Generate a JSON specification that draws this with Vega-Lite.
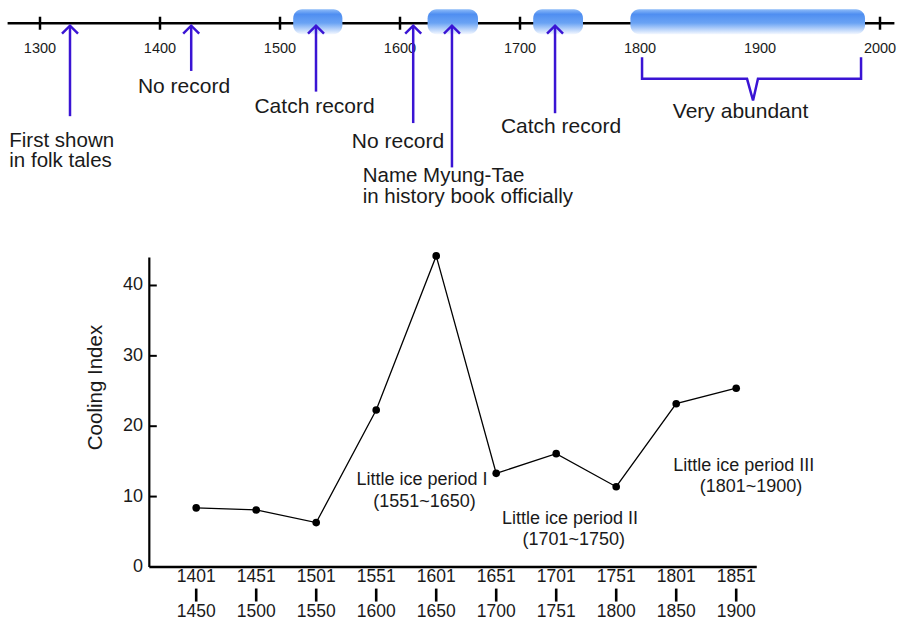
{
  "$schema": "https://vega.github.io/schema/vega-lite/v6.json",
  "width": 908,
  "height": 630,
  "autosize": {"type": "fit", "contains": "padding"},
  "padding": 0,
  "background": "#ffffff",
  "config": {"view": {"stroke": null}},
  "datasets": {
    "timeline": [{"from": 1273, "to": 2012, "level": 77.27}],
    "tickYears": [
      {"year": 1300, "level": 77.27}, {"year": 1400, "level": 77.27}, {"year": 1500, "level": 77.27},
      {"year": 1600, "level": 77.27}, {"year": 1700, "level": 77.27}, {"year": 2000, "level": 77.27}
    ],
    "centuries": [
      {"year": 1300, "label": "1300", "level": 73.57}, {"year": 1400, "label": "1400", "level": 73.57},
      {"year": 1500, "label": "1500", "level": 73.57}, {"year": 1600, "label": "1600", "level": 73.57},
      {"year": 1700, "label": "1700", "level": 73.57}, {"year": 1800, "label": "1800", "level": 73.57},
      {"year": 1900, "label": "1900", "level": 73.57}, {"year": 2000, "label": "2000", "level": 73.57}
    ],
    "records": [
      {"start": 1511, "end": 1552, "level": 77.48},
      {"start": 1623, "end": 1665, "level": 77.48},
      {"start": 1711, "end": 1752.5, "level": 77.48},
      {"start": 1792, "end": 1987.5, "level": 77.48}
    ],
    "events": [
      {"year": 1325, "tip": 76.92, "reach": 64.06},
      {"year": 1426, "tip": 76.92, "reach": 70.49},
      {"year": 1530, "tip": 76.92, "reach": 67.55},
      {"year": 1611, "tip": 76.92, "reach": 63.08},
      {"year": 1643.3, "tip": 76.92, "reach": 56.78},
      {"year": 1729.2, "tip": 76.92, "reach": 64.48}
    ],
    "brace": [
      {"year": 1801.7, "level": 72.45},
      {"year": 1801.7, "level": 69.37},
      {"year": 1889.2, "level": 69.37},
      {"year": 1894.2, "level": 66.29},
      {"year": 1898.3, "level": 69.37},
      {"year": 1984.2, "level": 69.37},
      {"year": 1984.2, "level": 72.45}
    ],
    "notesCentre": [
      {"note": "No record", "year": 1420, "level": 68.25},
      {"note": "Catch record", "year": 1528.8, "level": 65.31},
      {"note": "No record", "year": 1598.3, "level": 60.42},
      {"note": "Catch record", "year": 1734.2, "level": 62.52},
      {"note": "Very abundant", "year": 1883.8, "level": 64.62}
    ],
    "notesLeft": [
      {"note": "First shown", "year": 1274.4, "level": 60.56},
      {"note": "in folk tales", "year": 1274.4, "level": 57.76},
      {"note": "Name Myung-Tae", "year": 1568.9, "level": 55.52},
      {"note": "in history book officially", "year": 1568.9, "level": 52.59}
    ],
    "icePeriods": [
      {"note": "Little ice period I", "year": 1618.3, "level": 12.3},
      {"note": "(1551~1650)", "year": 1620.4, "level": 9.2},
      {"note": "Little ice period II", "year": 1741.7, "level": 6.75},
      {"note": "(1701~1750)", "year": 1744.8, "level": 3.8},
      {"note": "Little ice period III", "year": 1886.5, "level": 14.4},
      {"note": "(1801~1900)", "year": 1892.5, "level": 11.3}
    ],
    "periods": [
      {"start": 1401, "end": 1450, "cooling": 8.4},
      {"start": 1451, "end": 1500, "cooling": 8.1},
      {"start": 1501, "end": 1550, "cooling": 6.3},
      {"start": 1551, "end": 1600, "cooling": 22.3},
      {"start": 1601, "end": 1650, "cooling": 44.2},
      {"start": 1651, "end": 1700, "cooling": 13.3},
      {"start": 1701, "end": 1751, "cooling": 16.1},
      {"start": 1751, "end": 1800, "cooling": 11.4},
      {"start": 1801, "end": 1850, "cooling": 23.2},
      {"start": 1851, "end": 1900, "cooling": 25.4}
    ],
    "periodLabels": [
      {"start": 1401, "from": "1401", "to": "1450", "upper": -1.5, "middle": -4, "lower": -6.4},
      {"start": 1451, "from": "1451", "to": "1500", "upper": -1.5, "middle": -4, "lower": -6.4},
      {"start": 1501, "from": "1501", "to": "1550", "upper": -1.5, "middle": -4, "lower": -6.4},
      {"start": 1551, "from": "1551", "to": "1600", "upper": -1.5, "middle": -4, "lower": -6.4},
      {"start": 1601, "from": "1601", "to": "1650", "upper": -1.5, "middle": -4, "lower": -6.4},
      {"start": 1651, "from": "1651", "to": "1700", "upper": -1.5, "middle": -4, "lower": -6.4},
      {"start": 1701, "from": "1701", "to": "1751", "upper": -1.5, "middle": -4, "lower": -6.4},
      {"start": 1751, "from": "1751", "to": "1800", "upper": -1.5, "middle": -4, "lower": -6.4},
      {"start": 1801, "from": "1801", "to": "1850", "upper": -1.5, "middle": -4, "lower": -6.4},
      {"start": 1851, "from": "1851", "to": "1900", "upper": -1.5, "middle": -4, "lower": -6.4}
    ],
    "yticks": [
      {"tick": 0, "label": "0", "at": 1394.2, "labelAt": 1385.8},
      {"tick": 10, "label": "10", "at": 1394.2, "labelAt": 1385.8},
      {"tick": 20, "label": "20", "at": 1394.2, "labelAt": 1385.8},
      {"tick": 30, "label": "30", "at": 1394.2, "labelAt": 1385.8},
      {"tick": 40, "label": "40", "at": 1394.2, "labelAt": 1385.8}
    ],
    "frame": [{"left": 1391.1, "right": 1897.3, "low": 0, "high": 43.96}],
    "yTitle": [{"name": "Cooling Index", "year": 1346.7, "level": 25.5}]
  },
  "layer": [
    {
      "data": {"name": "timeline"},
      "mark": {"type": "rule", "color": "#000000", "strokeWidth": 2.5},
      "encoding": {
        "x": {"field": "from", "type": "quantitative", "scale": {"domain": [1266.667, 2023.333], "nice": false, "zero": false}, "axis": null},
        "x2": {"field": "to"},
        "y": {"field": "level", "type": "quantitative", "scale": {"domain": [-8.2517, 79.8602], "nice": false, "zero": false}, "axis": null}
      }
    },
    {
      "data": {"name": "tickYears"},
      "mark": {"type": "tick", "orient": "vertical", "size": 13, "thickness": 2.5, "color": "#000000", "opacity": 1},
      "encoding": {
        "x": {"field": "year", "type": "quantitative"},
        "y": {"field": "level", "type": "quantitative"}
      }
    },
    {
      "data": {"name": "centuries"},
      "mark": {"type": "text", "fontSize": 14.5, "font": "Liberation Sans", "color": "#1a1a1a", "baseline": "middle", "align": "center"},
      "encoding": {
        "x": {"field": "year", "type": "quantitative"},
        "y": {"field": "level", "type": "quantitative"},
        "text": {"field": "label", "type": "nominal"}
      }
    },
    {
      "data": {"name": "records"},
      "mark": {
        "type": "bar",
        "orient": "horizontal",
        "size": 25,
        "cornerRadius": 9,
        "color": {
          "gradient": "linear",
          "x1": 0, "y1": 0, "x2": 0, "y2": 1,
          "stops": [
            {"offset": 0, "color": "#8ebcf8"},
            {"offset": 0.2, "color": "#4f8ef1"},
            {"offset": 0.55, "color": "#6aa3f4"},
            {"offset": 1, "color": "#f4f8ff"}
          ]
        }
      },
      "encoding": {
        "x": {"field": "start", "type": "quantitative"},
        "x2": {"field": "end"},
        "y": {"field": "level", "type": "quantitative"}
      }
    },
    {
      "data": {"name": "events"},
      "mark": {"type": "rule", "color": "#3a14d4", "strokeWidth": 2.5},
      "encoding": {
        "x": {"field": "year", "type": "quantitative"},
        "y": {"field": "tip", "type": "quantitative"},
        "y2": {"field": "reach"}
      }
    },
    {
      "data": {"name": "events"},
      "mark": {"type": "point", "shape": "M-1,1L0,0L1,1", "filled": false, "size": 256, "color": "#3a14d4", "strokeWidth": 2.5, "opacity": 1},
      "encoding": {
        "x": {"field": "year", "type": "quantitative"},
        "y": {"field": "tip", "type": "quantitative"}
      }
    },
    {
      "data": {"name": "brace"},
      "mark": {"type": "line", "color": "#3a14d4", "strokeWidth": 2.5, "strokeJoin": "miter"},
      "encoding": {
        "x": {"field": "year", "type": "quantitative", "sort": null},
        "y": {"field": "level", "type": "quantitative"}
      }
    },
    {
      "data": {"name": "notesCentre"},
      "mark": {"type": "text", "fontSize": 21, "font": "Liberation Sans", "color": "#1a1a1a", "align": "center", "baseline": "middle"},
      "encoding": {
        "x": {"field": "year", "type": "quantitative"},
        "y": {"field": "level", "type": "quantitative"},
        "text": {"field": "note", "type": "nominal"}
      }
    },
    {
      "data": {"name": "notesLeft"},
      "mark": {"type": "text", "fontSize": 20.5, "font": "Liberation Sans", "color": "#1a1a1a", "align": "left", "baseline": "middle"},
      "encoding": {
        "x": {"field": "year", "type": "quantitative"},
        "y": {"field": "level", "type": "quantitative"},
        "text": {"field": "note", "type": "nominal"}
      }
    },
    {
      "data": {"name": "frame"},
      "mark": {"type": "rule", "color": "#000000", "strokeWidth": 2.5},
      "encoding": {
        "x": {"field": "left", "type": "quantitative"},
        "x2": {"field": "right"},
        "y": {"field": "low", "type": "quantitative"}
      }
    },
    {
      "data": {"name": "frame"},
      "mark": {"type": "rule", "color": "#000000", "strokeWidth": 2.2},
      "encoding": {
        "x": {"field": "left", "type": "quantitative"},
        "y": {"field": "low", "type": "quantitative"},
        "y2": {"field": "high"}
      }
    },
    {
      "data": {"name": "yticks"},
      "transform": [{"filter": "datum.tick > 0"}],
      "mark": {"type": "tick", "orient": "horizontal", "size": 7.5, "thickness": 2, "color": "#000000", "opacity": 1},
      "encoding": {
        "x": {"field": "at", "type": "quantitative"},
        "y": {"field": "tick", "type": "quantitative"}
      }
    },
    {
      "data": {"name": "yticks"},
      "mark": {"type": "text", "fontSize": 18, "font": "Liberation Sans", "color": "#1a1a1a", "align": "right", "baseline": "middle"},
      "encoding": {
        "x": {"field": "labelAt", "type": "quantitative"},
        "y": {"field": "tick", "type": "quantitative"},
        "text": {"field": "label", "type": "nominal"}
      }
    },
    {
      "data": {"name": "yTitle"},
      "mark": {"type": "text", "fontSize": 20.5, "font": "Liberation Sans", "color": "#1a1a1a", "align": "center", "baseline": "middle", "angle": 270},
      "encoding": {
        "x": {"field": "year", "type": "quantitative"},
        "y": {"field": "level", "type": "quantitative"},
        "text": {"field": "name", "type": "nominal"}
      }
    },
    {
      "data": {"name": "icePeriods"},
      "mark": {"type": "text", "fontSize": 18, "font": "Liberation Sans", "color": "#1a1a1a", "align": "center", "baseline": "middle"},
      "encoding": {
        "x": {"field": "year", "type": "quantitative"},
        "y": {"field": "level", "type": "quantitative"},
        "text": {"field": "note", "type": "nominal"}
      }
    },
    {
      "data": {"name": "periods"},
      "mark": {"type": "line", "color": "#000000", "strokeWidth": 1.3, "xOffset": 35},
      "encoding": {
        "x": {"field": "start", "type": "quantitative"},
        "y": {"field": "cooling", "type": "quantitative"}
      }
    },
    {
      "data": {"name": "periods"},
      "mark": {"type": "circle", "color": "#000000", "size": 58, "opacity": 1, "xOffset": 35},
      "encoding": {
        "x": {"field": "start", "type": "quantitative"},
        "y": {"field": "cooling", "type": "quantitative"}
      }
    },
    {
      "data": {"name": "periodLabels"},
      "mark": {"type": "text", "fontSize": 17.5, "font": "Liberation Sans", "color": "#1a1a1a", "align": "center", "baseline": "middle", "xOffset": 35},
      "encoding": {
        "x": {"field": "start", "type": "quantitative"},
        "y": {"field": "upper", "type": "quantitative"},
        "text": {"field": "from", "type": "nominal"}
      }
    },
    {
      "data": {"name": "periodLabels"},
      "mark": {"type": "tick", "orient": "vertical", "size": 13, "thickness": 2.6, "color": "#000000", "opacity": 1, "xOffset": 35},
      "encoding": {
        "x": {"field": "start", "type": "quantitative"},
        "y": {"field": "middle", "type": "quantitative"}
      }
    },
    {
      "data": {"name": "periodLabels"},
      "mark": {"type": "text", "fontSize": 17.5, "font": "Liberation Sans", "color": "#1a1a1a", "align": "center", "baseline": "middle", "xOffset": 35},
      "encoding": {
        "x": {"field": "start", "type": "quantitative"},
        "y": {"field": "lower", "type": "quantitative"},
        "text": {"field": "to", "type": "nominal"}
      }
    }
  ]
}
